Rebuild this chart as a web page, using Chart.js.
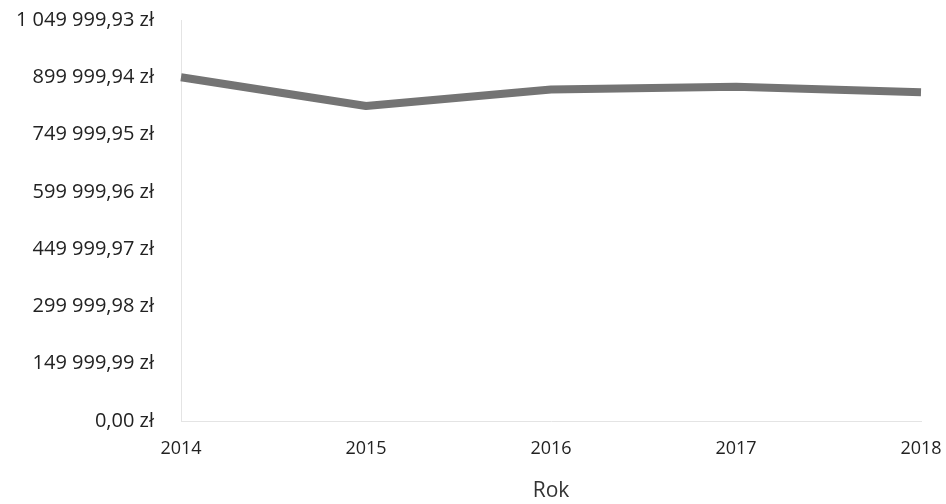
<!DOCTYPE html>
<html><head><meta charset="utf-8">
<script src="https://cdn.jsdelivr.net/npm/chart.js@4"></script>
<style>html,body{margin:0;padding:0;background:#fff}#wrap{width:946px;height:504px}</style>
</head><body><div id="wrap"><canvas id="c" width="946" height="504"></canvas></div>
<script>
const years = ['2014','2015','2016','2017','2018'];
const values = [900000, 825000, 868000, 875000, 861000];
const yTickValues = [0, 149999.99, 299999.98, 449999.97, 599999.96, 749999.95, 899999.94, 1049999.93];
const xTitle = 'Rok';

function fmtPLN(v){
  const s = Number(v).toFixed(2);
  let [i,d] = s.split('.');
  i = i.replace(/\B(?=(\d{3})+(?!\d))/g,' ');
  return i + ',' + d + ' zł';
}

new Chart(document.getElementById('c'), {
  type: 'line',
  data: { labels: years, datasets: [{
    data: values, borderColor: '#747474', borderWidth: 8, pointRadius: 0,
    tension: 0, fill: false, borderCapStyle: 'butt', borderJoinStyle: 'round'
  }]},
  options: {
    responsive: false, animation: false,
    layout: { padding: { top: 20, right: 25, left: 0, bottom: 0 } },
    plugins: { legend: { display: false }, tooltip: { enabled: false } },
    scales: {
      x: {
        offset: false,
        grid: { display: false, drawTicks: false },
        border: { display: true, color: '#e4e4e4', width: 1 },
        ticks: { color: '#222', font: { family: 'Open Sans', size: 18 }, padding: 17, maxRotation: 0 },
        title: { display: true, text: xTitle, color: '#333', font: { family: 'Open Sans', size: 21 }, padding: { top: 8, bottom: 0 } },
        afterFit: s => { s.height = 83; s.paddingLeft = 0; s.paddingRight = 0; }
      },
      y: {
        min: 0, max: 1049999.93,
        grid: { display: false, drawTicks: false },
        border: { display: true, color: '#e4e4e4', width: 1 },
        afterBuildTicks: s => { s.ticks = yTickValues.map(v => ({ value: v })); },
        ticks: { color: '#222', font: { family: 'Open Sans', size: 20 }, padding: 27, callback: v => fmtPLN(v) },
        afterFit: s => { s.width = 181; s.paddingTop = 0; s.paddingBottom = 0; }
      }
    }
  }
});
</script></body></html>
